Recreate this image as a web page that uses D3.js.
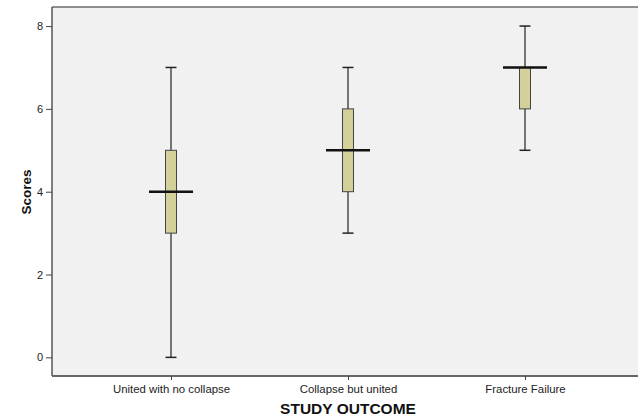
<!DOCTYPE html>
<html><head><meta charset="utf-8">
<script src="https://cdn.jsdelivr.net/npm/d3@7"></script>
<style>body{margin:0;background:#fff}svg{display:block}</style>
</head><body>
<script>
const categories = ["United with no collapse", "Collapse but united", "Fracture Failure"];
const mins    = [0, 3, 5];
const q1s     = [3, 4, 6];
const medians = [4, 5, 7];
const q3s     = [5, 6, 7];
const maxs    = [7, 7, 8];
const yTicks  = [0, 2, 4, 6, 8];

const W = 639, H = 417;
const plot = {left: 52, right: 638, top: 7, bottom: 376};

const svg = d3.select("body").append("svg").attr("width", W).attr("height", H);

const y = d3.scaleLinear().domain([-0.45, 8.46]).range([plot.bottom, plot.top]);
const x = d3.scalePoint().domain(categories).range([171, 525]);

svg.append("rect").attr("x", plot.left).attr("y", plot.top)
  .attr("width", plot.right - plot.left).attr("height", plot.bottom - plot.top)
  .attr("fill", "#f1f1f1");

svg.append("line").attr("x1", plot.left).attr("x2", plot.right).attr("y1", plot.top).attr("y2", plot.top)
  .attr("stroke", "#6a6a6a").attr("stroke-width", 1.5);

const yAxis = svg.append("g").attr("transform", `translate(${plot.left},0)`)
  .call(d3.axisLeft(y).tickValues(yTicks).tickSize(6).tickPadding(3).tickFormat(d3.format("d")));
yAxis.select(".domain").attr("d", `M0,${plot.top}V${plot.bottom}`).attr("stroke", "#555").attr("stroke-width", 1.5);
yAxis.selectAll(".tick line").attr("stroke", "#444");
yAxis.selectAll("text").attr("font-family", "Liberation Sans, Arial, sans-serif").attr("font-size", 11).attr("fill", "#222");

const xAxis = svg.append("g").attr("transform", `translate(0,${plot.bottom})`)
  .call(d3.axisBottom(x).tickSize(4).tickPadding(5));
xAxis.select(".domain").attr("d", `M${plot.left},0H${plot.right}`).attr("stroke", "#666").attr("stroke-width", 2);
xAxis.selectAll(".tick line").attr("stroke", "#444");
xAxis.selectAll("text").attr("font-family", "Liberation Sans, Arial, sans-serif").attr("font-size", 11.4).attr("fill", "#222");

const boxW = 11, medW = 44;
const g = svg.append("g");
categories.forEach((c, i) => {
  const cx = x(c);
  g.append("line").attr("x1", cx).attr("x2", cx).attr("y1", y(maxs[i])).attr("y2", y(q3s[i]))
    .attr("stroke", "#333").attr("stroke-width", 1.3);
  g.append("line").attr("x1", cx).attr("x2", cx).attr("y1", y(q1s[i])).attr("y2", y(mins[i]))
    .attr("stroke", "#333").attr("stroke-width", 1.3);
  [mins[i], maxs[i]].forEach(v => {
    g.append("line").attr("x1", cx - boxW/2).attr("x2", cx + boxW/2).attr("y1", y(v)).attr("y2", y(v))
      .attr("stroke", "#222").attr("stroke-width", 1.5);
  });
  g.append("rect").attr("x", cx - boxW/2).attr("y", y(q3s[i]))
    .attr("width", boxW).attr("height", Math.max(0, y(q1s[i]) - y(q3s[i])))
    .attr("fill", "#d4d09a").attr("stroke", "#444").attr("stroke-width", 1);
  g.append("line").attr("x1", cx - medW/2).attr("x2", cx + medW/2).attr("y1", y(medians[i])).attr("y2", y(medians[i]))
    .attr("stroke", "#111").attr("stroke-width", 2.5);
});

svg.append("text").attr("x", 348).attr("y", 414).attr("text-anchor", "middle")
  .attr("font-family", "Liberation Sans, Arial, sans-serif").attr("font-weight", "bold").attr("font-size", 15.5)
  .attr("fill", "#111").text("STUDY OUTCOME");
svg.append("text").attr("transform", "translate(31,192) rotate(-90)").attr("text-anchor", "middle")
  .attr("font-family", "Liberation Sans, Arial, sans-serif").attr("font-weight", "bold").attr("font-size", 13.5)
  .attr("fill", "#111").text("Scores");
</script>
</body></html>
